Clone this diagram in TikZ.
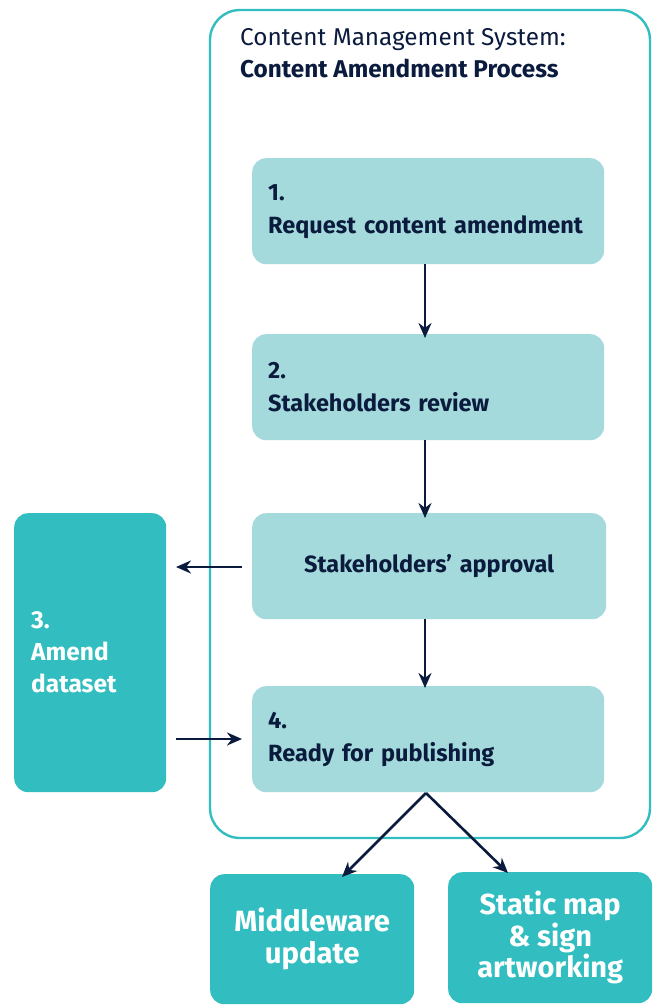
\documentclass[tikz,border=0pt]{standalone}
\usepackage{fontspec}
\setmainfont{Fira Sans}
\usetikzlibrary{arrows.meta}
\definecolor{navy}{HTML}{0B1B3D}
\definecolor{tealdark}{HTML}{32BEC0}
\definecolor{teallight}{HTML}{A4DADC}
\begin{document}
\begin{tikzpicture}[x=1pt,y=-1pt,
  frame/.style={draw=tealdark,line width=2.4pt,rounded corners=30pt},
  stepbox/.style={fill=teallight,rounded corners=14pt,minimum width=352pt,minimum height=106pt,text width=320pt,inner xsep=16pt,align=left,anchor=north west,text=navy,font=\fontsize{23.5}{33}\selectfont\bfseries},
  darkbox/.style={fill=tealdark,rounded corners=14pt,text=white,anchor=north west},
  conn/.style={draw=navy,line width=2.6pt,-{Stealth[length=15pt,width=13pt]}}]
\useasboundingbox (0,0) rectangle (657,1005);
\draw[frame] (210,10) rectangle (650,838);
\node[anchor=north west,text=navy,align=left,font=\fontsize{24.3}{32}\selectfont,inner sep=0pt] (title) at (240,28) {\fontseries{l}\selectfont Content Management System:\\\textbf{Content Amendment Process}};
\node[stepbox] (s1) at (252,158) {1.\\Request content amendment};
\node[stepbox] (s2) at (252,334) {2.\\Stakeholders review};
\node[stepbox,minimum width=354pt,text width=322pt,align=center] (sa) at (252,513) {Stakeholders’ approval};
\node[stepbox] (s4) at (252,686) {4.\\Ready for publishing};
\node[darkbox,minimum width=152pt,minimum height=279pt,text width=118pt,inner xsep=16pt,align=left,font=\fontsize{24.5}{32}\selectfont\bfseries] (s3) at (14,513) {3.\\Amend\\dataset};
\node[darkbox,minimum width=204pt,minimum height=130pt,align=center,font=\fontsize{29.3}{32}\selectfont\bfseries] (mw) at (210,874) {Middleware\\update};
\node[darkbox,minimum width=204pt,minimum height=131pt,align=center,font=\fontsize{29}{31.5}\selectfont\bfseries] (sm) at (448,872) {Static map\\\& sign\\artworking};
\coordinate (sa-l) at (242,567);
\coordinate (s3-r) at (176,567);
\coordinate (s3-r2) at (176,739);
\coordinate (s4-l) at (242,739);
\draw[conn] ([xshift=173pt]s1.south west) -- ([xshift=173pt,yshift=-4pt]s2.north west);
\draw[conn] ([xshift=173pt]s2.south west) -- ([xshift=173pt,yshift=-5pt]sa.north west);
\draw[conn] ([xshift=173pt]sa.south west) -- ([xshift=173pt,yshift=-2pt]s4.north west);
\draw[conn] (sa-l) -- (s3-r);
\draw[conn] (s3-r2) -- (s4-l);
\coordinate (fork) at (426,793);
\draw[conn] (fork) -- ([xshift=132pt,yshift=-3pt]mw.north west);
\draw[conn] (fork) -- ([xshift=60pt,yshift=-1pt]sm.north west);
\end{tikzpicture}
\end{document}
